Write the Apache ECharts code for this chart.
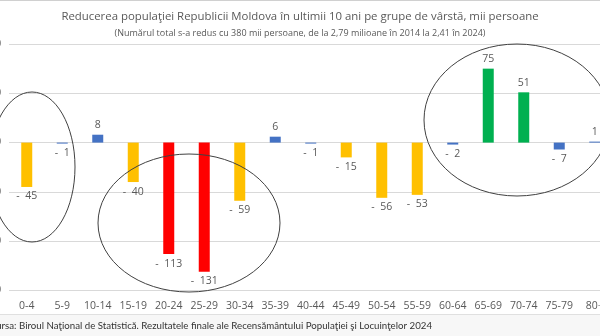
<!DOCTYPE html>
<html><head><meta charset="utf-8">
<script src="https://cdn.jsdelivr.net/npm/echarts@6/dist/echarts.min.js"></script>
<style>html,body{margin:0;padding:0;background:#fff}#c{width:600px;height:336px}</style>
</head><body><div id="c"></div>
<script>
const categories = ['0-4','5-9','10-14','15-19','20-24','25-29','30-34','35-39','40-44','45-49','50-54','55-59','60-64','65-69','70-74','75-79','80+'];
const values = [-45,-1,8,-40,-113,-131,-59,6,-1,-15,-56,-53,-2,75,51,-7,1];
const colorGroups = ['y','b','b','y','r','r','y','b','b','y','y','y','b','g','g','b','b'];
const palette = {y:'#FFC000', r:'#FF0000', g:'#00B050', b:'#4472C4'};
const yTicks = {min:-150, max:100, interval:50};
const titleText = 'Reducerea populaţiei Republicii Moldova în ultimii 10 ani pe grupe de vârstă, mii persoane';
const subText = '(Numărul total s-a redus cu 380 mii persoane, de la 2,79 milioane în 2014 la 2,41 în 2024)';
const sourceText = 'Sursa: Biroul Naţional de Statistică. Rezultatele finale ale Recensământului Populaţiei şi Locuinţelor 2024';

const chart = echarts.init(document.getElementById('c'), null, {renderer:'canvas'});
const data = values.map((v,i)=>({
  value: v,
  itemStyle:{color: palette[colorGroups[i]]},
  label:{position: v<0 ? 'bottom' : 'top'}
}));
const ell = (cx,cy,rx,ry)=>({type:'ellipse', shape:{cx,cy,rx,ry}, style:{fill:null, stroke:'#404040', lineWidth:1}, z:10, silent:true});
chart.setOption({
  animation:false,
  title:[
    {text:titleText, left:'center', top:6, textStyle:{fontFamily:'Open Sans', fontSize:11.4, fontWeight:'normal', color:'#595959'}},
    {text:subText, left:'center', top:24, textStyle:{fontFamily:'Open Sans', fontSize:9, fontWeight:'normal', color:'#595959'}}
  ],
  grid:{left:9, right:-12.5, top:44, bottom:45.5, containLabel:false, outerBoundsMode:'none'},
  xAxis:{type:'category', data:categories, position:'bottom',
    axisLine:{show:false}, axisTick:{show:false},
    axisLabel:{color:'#595959', fontFamily:'Open Sans', fontSize:10.5, margin:10, interval:0}},
  yAxis:{type:'value', min:yTicks.min, max:yTicks.max, interval:yTicks.interval,
    axisLine:{show:false}, axisTick:{show:false},
    axisLabel:{color:'#595959', fontSize:10, margin:8},
    splitLine:{lineStyle:{color:'#D9D9D9', width:1}}},
  series:[{type:'bar', data, barWidth:11,
    label:{show:true, distance:4, color:'#595959', fontFamily:'Open Sans', fontSize:10.5,
      formatter:p=> p.value<0 ? '-  ' + Math.abs(p.value) : String(p.value)}}],
  graphic:[
    {type:'rect', shape:{x:0,y:0,width:600,height:1}, style:{fill:'#d0d0d0'}},
    {type:'rect', shape:{x:0,y:314,width:600,height:22}, style:{fill:'#f7f7f7'}, z:-1},
    {type:'rect', shape:{x:0,y:314,width:600,height:1}, style:{fill:'#e0e0e0'}},
    {type:'text', right:168, top:321, style:{text:sourceText, fill:'#333333', font:'9.7px Lato'}},
    ell(32,167,43,75),
    ell(189,223,91,69),
    ell(517,120,93,76)
  ]
});
</script></body></html>
